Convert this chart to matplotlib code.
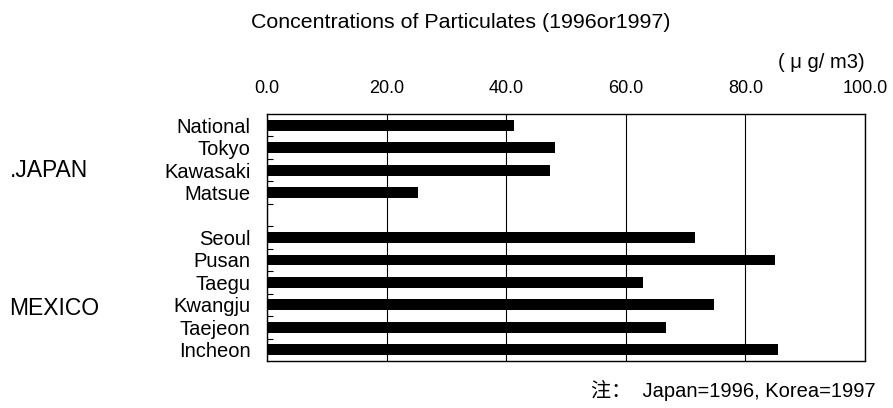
import matplotlib.pyplot as plt
import numpy as np

plt.rcParams['font.family'] = ['Liberation Sans', 'Noto Sans CJK SC', 'DejaVu Sans']

japan_sites = ['National', 'Tokyo', 'Kawasaki', 'Matsue']
japan_vals = [41.3, 48.1, 47.4, 25.3]
korea_sites = ['Seoul', 'Pusan', 'Taegu', 'Kwangju', 'Taejeon', 'Incheon']
korea_vals = [71.5, 84.9, 62.8, 74.8, 66.8, 85.5]
xticks = [0, 20, 40, 60, 80, 100]

# one empty slot between the two groups
labels = japan_sites + [''] + korea_sites
vals = japan_vals + [np.nan] + korea_vals
pos = np.arange(len(labels))

fig = plt.figure(figsize=(8.93, 4.08), dpi=100)
ax = fig.add_axes([0.299, 0.1152, 0.6697, 0.6054])

ax.barh(pos, vals, height=0.48, color='black', zorder=3)

ax.set_xlim(0, 100)
ax.set_ylim(len(labels) - 0.5, -0.5)
ax.xaxis.tick_top()
ax.set_xticks(xticks)
ax.set_xticklabels(['%.1f' % v for v in xticks], fontsize=13)
ax.tick_params(axis='x', length=0, pad=12)
ax.grid(axis='x', color='black', lw=0.8, zorder=1)

ax.set_yticks(pos)
ax.set_yticklabels(labels, fontsize=14.5)
ax.tick_params(axis='y', which='major', length=0, pad=12)
ax.set_yticks(pos[:-1] + 0.5, minor=True)
ax.tick_params(axis='y', which='minor', direction='in', length=4, width=0.8)
for s in ax.spines.values():
    s.set_linewidth(1.0)

fig.text(0.516, 0.944, 'Concentrations of Particulates (1996or1997)', ha='center', va='center', fontsize=15.4)
fig.text(0.9686, 0.846, '( μ g/ m3)', ha='right', va='center', fontsize=14.5)
fig.text(0.011, 0.583, '.JAPAN', ha='left', va='center', fontsize=16.5)
fig.text(0.010, 0.243, 'MEXICO', ha='left', va='center', fontsize=16.5)
fig.text(0.98, 0.044, '注：  Japan=1996, Korea=1997', ha='right', va='center', fontsize=14.5)

fig.savefig('out.png', dpi=100)
